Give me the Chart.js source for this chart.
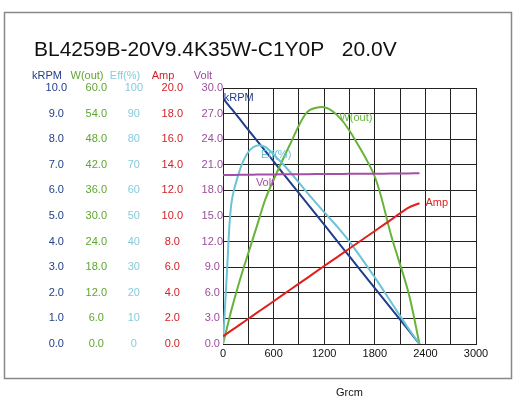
<!DOCTYPE html>
<html><head><meta charset="utf-8">
<script src="https://cdn.jsdelivr.net/npm/chart.js@4"></script>
<style>html,body{margin:0;padding:0;background:#fff}#w{width:516px;height:400px;position:relative}</style>
</head><body><div id="w"><canvas id="c" width="516" height="400"></canvas></div>
<script>
const torque = [0,50,100,200,300,400,500,600,800,1000,1200,1350,1500,1800,2000,2200,2330];
const rpm    = [9.6,9.39,9.19,8.78,8.36,7.95,7.54,7.13,6.30,5.48,4.66,4.04,3.42,2.18,1.36,0.54,0];
const amp    = [0.6,0.83,1.06,1.51,1.97,2.43,2.88,3.34,4.26,5.17,6.09,6.77,7.46,8.83,9.74,10.66,11.0];
const volt   = [19.8,19.8,19.8,19.82,19.84,19.85,19.86,19.87,19.89,19.9,19.92,19.93,19.94,19.96,19.97,19.99,20.0];
const eff    = [0,30,55,68,75,77.5,77,74,67,59,51.5,46,40,26,16,6,0];
const wout   = [0,4,8,15,21.3,27.5,33.8,38.5,47,54.4,55.5,53.7,50,39.2,25,12,0];
const colors = {volt:'#a54ea7',amp:'#e0201e',eff:'#6cc3d6',w:'#67b33a',rpm:'#1f3e8e'};
const tickCol = {volt:'#9c4b9c',amp:'#d32128',eff:'#86cbdb',w:'#5fa52f',rpm:'#23408a'};
const heads = [['volt','Volt'],['amp','Amp'],['eff','Eff(%)'],['w','W(out)'],['rpm','kRPM']];
const widths = {volt:40,amp:40,eff:36,w:40,rpm:40};
const maxes = {volt:30,amp:20,eff:100,w:60,rpm:10};
const xTicks = [0,600,1200,1800,2400,3000];

function yAxis(k){
  return {type:'linear',position:'left',min:0,max:maxes[k],
    ticks:{stepSize:maxes[k]/10,color:tickCol[k],font:{family:'Liberation Sans',size:11},padding:0,crossAlign:'center',
      callback:v=> k==='eff'? String(Math.round(v)) : v.toFixed(1)},
    grid:{display:k==='rpm',color:'#222',lineWidth:1,drawTicks:false},
    border:{display:false},
    afterFit:a=>{a.width=widths[k];}};
}
const pts = arr => torque.map((x,i)=>({x,y:arr[i]}));
const ds = (lab,arr,k)=>({label:lab,data:pts(arr),yAxisID:k,borderColor:colors[k],borderWidth:2,pointRadius:0,tension:0.3,fill:false});

const deco = {id:'deco',afterDraw(ch){
  const c=ch.ctx; c.save();
  c.strokeStyle='#888'; c.lineWidth=1.5; c.strokeRect(4.5,12.5,507,366);
  c.fillStyle='#111'; c.font='21px "Liberation Sans"'; c.textBaseline='middle'; c.textAlign='left';
  c.fillText('BL4259B-20V9.4K35W-C1Y0P   20.0V',34,50);
  c.font='11px "Liberation Sans"'; c.textAlign='center';
  heads.forEach(([k,t])=>{const a=ch.scales[k]; c.fillStyle=tickCol[k]; c.fillText(t,(a.left+a.right)/2,76);});
  c.textAlign='left';
  const X=ch.scales.x;
  const lab=(t,k,x,y)=>{c.fillStyle=colors[k]; c.fillText(t,X.getPixelForValue(x),ch.scales[k].getPixelForValue(y));};
  lab('kRPM','rpm',10,9.6);
  lab('W(out)','w',1380,53);
  lab('Eff(%)','eff',450,74);
  lab('Volt','volt',390,18.9);
  lab('Amp','amp',2400,11.0);
  c.restore();
}};

new Chart(document.getElementById('c'),{
  type:'line',
  data:{datasets:[ds('Volt',volt,'volt'),ds('Amp',amp,'amp'),ds('Eff',eff,'eff'),ds('W(out)',wout,'w'),ds('kRPM',rpm,'rpm')]},
  options:{responsive:false,animation:false,devicePixelRatio:1,
    layout:{padding:{left:27,right:40,top:88,bottom:0}},
    plugins:{legend:{display:false},tooltip:{enabled:false}},
    scales:{
      x:{type:'linear',min:0,max:3000,
        afterBuildTicks:a=>{a.ticks=[];for(let v=0;v<=3000;v+=300)a.ticks.push({value:v});},
        ticks:{color:'#111',font:{family:'Liberation Sans',size:11},padding:3,maxRotation:0,autoSkip:false,
          callback:v=> xTicks.includes(v)? String(v):''},
        grid:{color:'#222',lineWidth:1,drawTicks:false},border:{color:'#222'},
        title:{display:true,text:'Grcm',color:'#111',font:{family:'Liberation Sans',size:11},padding:0},
        afterFit:a=>{a.height=56;}},
      volt:yAxis('volt'),amp:yAxis('amp'),eff:yAxis('eff'),w:yAxis('w'),rpm:yAxis('rpm')
    }},
  plugins:[deco]
});
</script></body></html>
